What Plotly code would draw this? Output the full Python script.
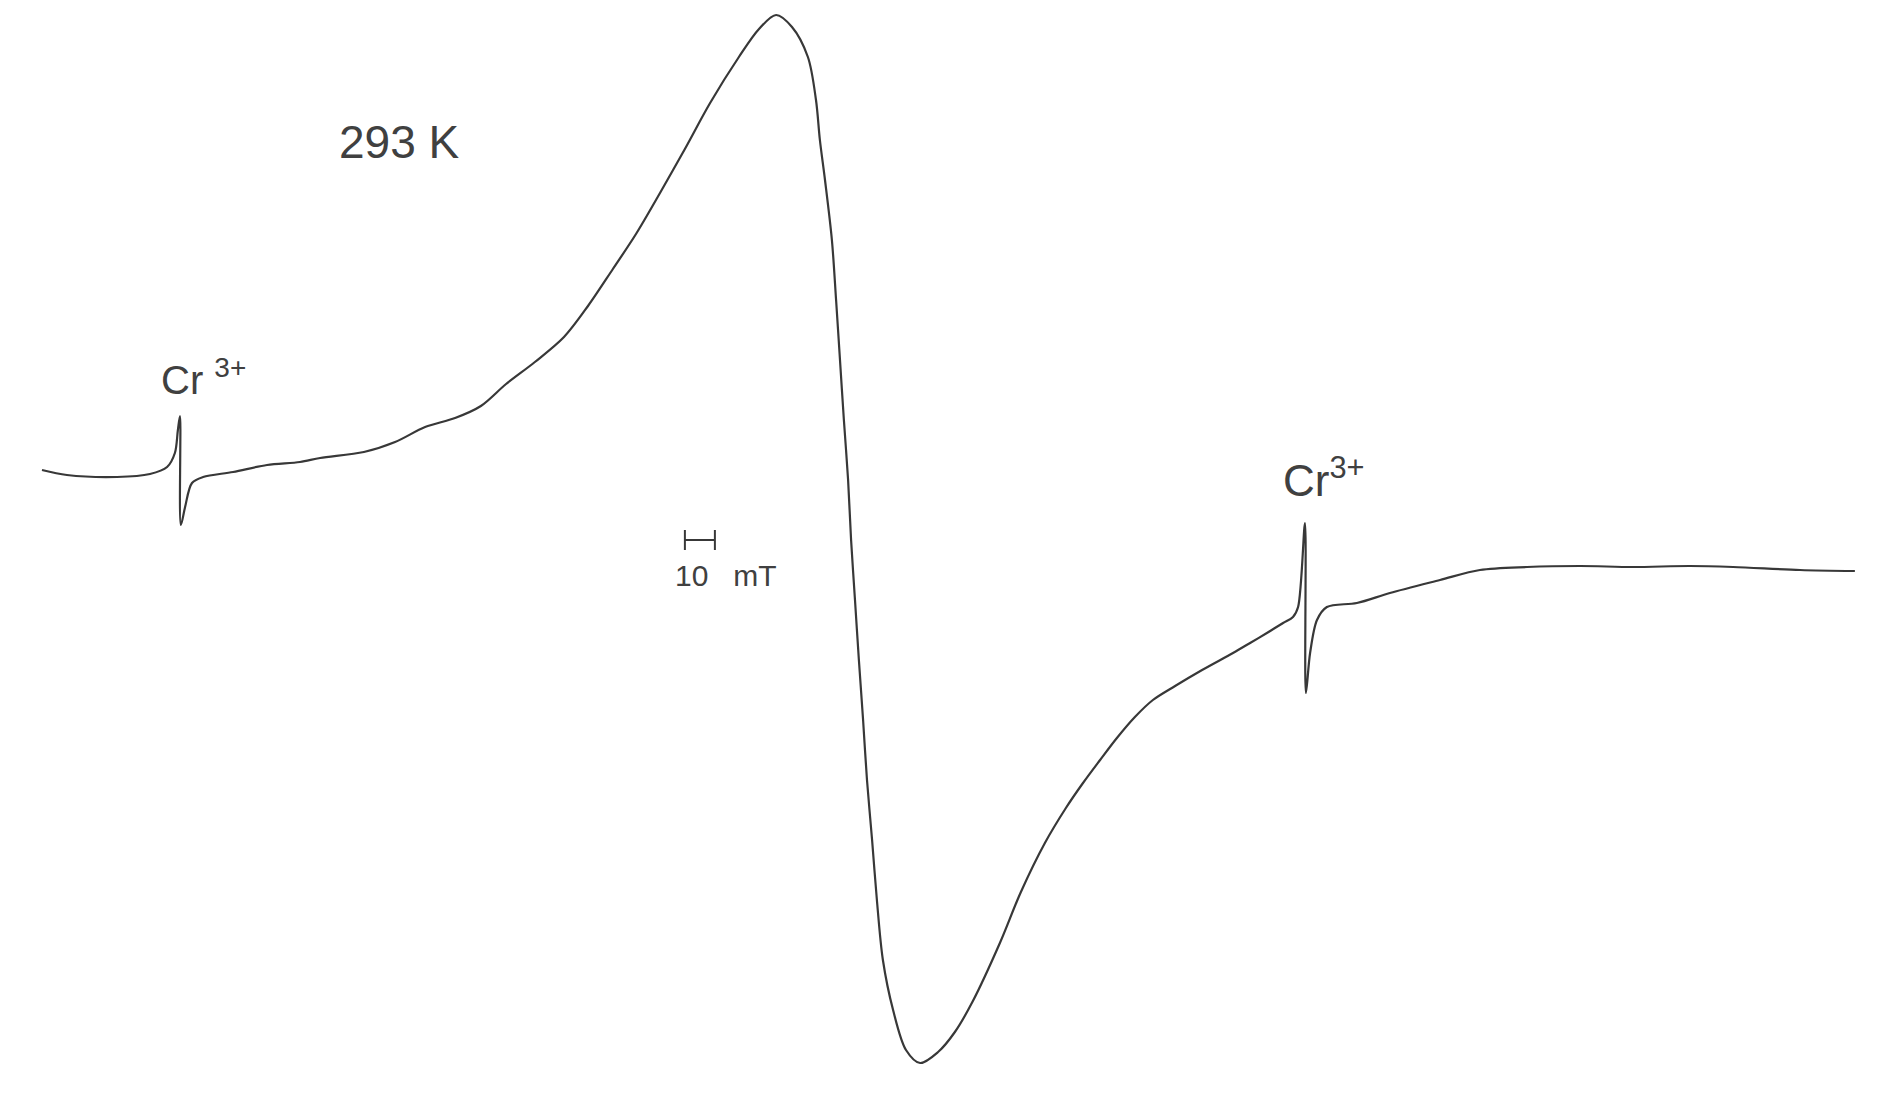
import plotly.graph_objects as go

# Magnetic field (mT, arbitrary origin) and EPR signal (arbitrary units)
field_mT = [14.0, 22.3, 39.0, 50.0, 55.7, 58.3, 59.3, 60.0, 60.3, 61.7, 64.0, 67.7, 77.7, 89.0,
            100.0, 106.7, 121.3, 131.7, 141.7, 151.7, 160.3, 168.7, 178.3, 188.0, 196.0, 204.3,
            212.0, 220.0, 228.3, 236.7, 246.3, 253.0, 258.7, 264.0, 269.3, 272.0, 273.3, 275.0,
            277.3, 278.7, 280.0, 281.3, 282.7, 283.7, 285.0, 286.3, 287.7, 289.0, 290.7, 292.3,
            294.3, 297.7, 302.0, 306.7, 312.7, 318.3, 324.3, 333.3, 340.3, 348.3, 355.3, 361.0,
            366.7, 372.3, 378.3, 384.3, 391.7, 400.7, 411.0, 416.7, 422.3, 427.7, 431.0, 432.7,
            435.0, 435.3, 436.7, 439.0, 442.3, 452.3, 463.3, 480.0, 493.3, 509.0, 526.7, 544.3,
            563.3, 577.7, 600.0, 618.3]
signal = [0.3, -0.2, -0.4, -0.1, 0.6, 2.0, 4.3, 5.7, -5.2, -3.4, -1.0, -0.4, 0.1, 0.8,
          1.1, 1.5, 2.1, 3.1, 4.6, 5.5, 6.7, 8.9, 11.1, 13.6, 16.7, 20.4,
          23.9, 28.0, 32.4, 37.0, 41.6, 44.4, 45.8, 44.6, 41.6, 37.3, 33.3, 29.3,
          23.3, 17.3, 11.3, 5.3, -0.7, -6.7, -12.7, -18.7, -24.7, -30.7, -36.7, -42.7,
          -48.7, -53.7, -57.7, -59.0, -57.9, -55.9, -52.8, -47.0, -41.9, -37.0, -33.5, -31.0,
          -28.7, -26.5, -24.4, -22.7, -21.3, -19.7, -18.0, -17.0, -16.0, -15.0, -14.4, -13.4,
          -5.0, -22.0, -18.0, -14.7, -13.4, -13.0, -12.0, -10.7, -9.7, -9.4, -9.3, -9.4,
          -9.3, -9.4, -9.7, -9.8]

# Scale bar: 10 mT
bar_field = [228.3, 238.3]
bar_level = -6.7

labels = ["293 K", "Cr <sup>3+</sup>", "Cr<sup>3+</sup>", "10   mT"]
label_field = [133.3, 68.0, 441.5, 242.0]
label_signal = [33.1, 9.6, -0.4, -10.2]
label_size = [46, 40, 44, 30]

ink = "#383838"

fig = go.Figure()
fig.add_trace(go.Scatter(x=field_mT, y=signal, mode="lines",
                         line=dict(color=ink, width=2.2, shape="spline", smoothing=0.9),
                         hoverinfo="skip", showlegend=False))
# scale bar with end ticks
fig.add_trace(go.Scatter(x=[bar_field[0], bar_field[1]], y=[bar_level, bar_level], mode="lines",
                         line=dict(color=ink, width=2), showlegend=False, hoverinfo="skip"))
for bf in bar_field:
    fig.add_trace(go.Scatter(x=[bf, bf], y=[bar_level + 1.0, bar_level - 1.0], mode="lines",
                             line=dict(color=ink, width=2), showlegend=False, hoverinfo="skip"))

for t, xv, yv, s in zip(labels, label_field, label_signal, label_size):
    fig.add_annotation(x=xv, y=yv, text=t, showarrow=False, xref="x", yref="y",
                       font=dict(family="Liberation Sans, Arial", size=s, color="#404040"))

# faint page edge on the right of the scan
fig.add_shape(type="line", xref="paper", yref="paper", x0=0.9936, x1=0.9936, y0=0, y1=1,
              line=dict(color="#e2e2e2", width=2))

fig.update_xaxes(range=[2.67, 630.67], visible=False, showgrid=False, zeroline=False)
fig.update_yaxes(range=[-63.7, 46.5], visible=False, showgrid=False, zeroline=False)
fig.update_layout(width=1884, height=1102, margin=dict(l=0, r=0, t=0, b=0),
                  paper_bgcolor="white", plot_bgcolor="white")

fig.write_html("out.html")
